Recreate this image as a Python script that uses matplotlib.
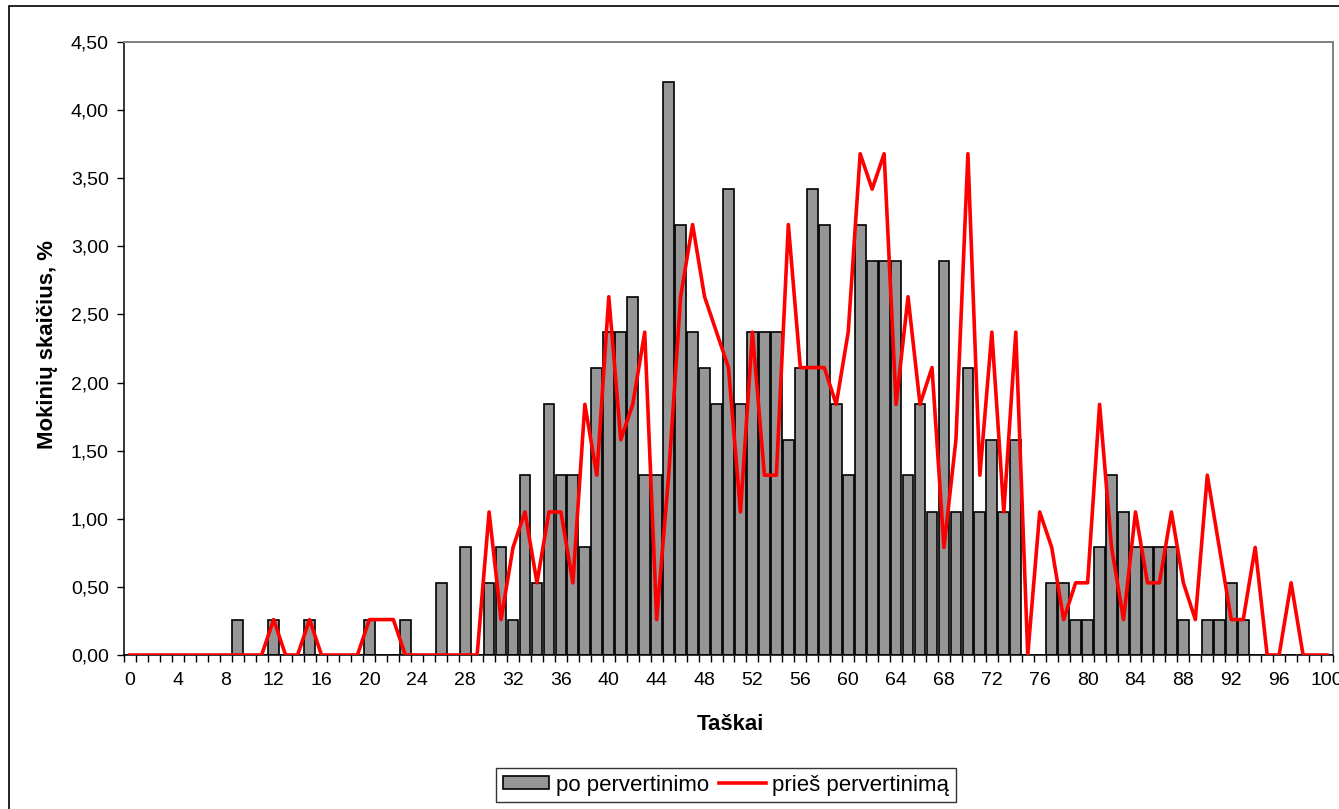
import numpy as np
import matplotlib
matplotlib.use("Agg")
import matplotlib.pyplot as plt
from matplotlib.patches import Patch, Rectangle
from matplotlib.lines import Line2D
from matplotlib.ticker import FixedLocator, FuncFormatter

plt.rcParams['font.family'] = ['Liberation Sans', 'DejaVu Sans']

scores = list(range(0, 101))

po_pervertinimo = [
    0, 0, 0, 0, 0, 0, 0, 0, 0, 0.26,        # 0-9
    0, 0, 0.26, 0, 0, 0.26, 0, 0, 0, 0,     # 10-19
    0.26, 0, 0, 0.26, 0, 0, 0.53, 0, 0.79, 0,   # 20-29
    0.53, 0.79, 0.26, 1.32, 0.53, 1.84, 1.32, 1.32, 0.79, 2.11,  # 30-39
    2.37, 2.37, 2.63, 1.32, 1.32, 4.21, 3.16, 2.37, 2.11, 1.84,  # 40-49
    3.42, 1.84, 2.37, 2.37, 2.37, 1.58, 2.11, 3.42, 3.16, 1.84,  # 50-59
    1.32, 3.16, 2.89, 2.89, 2.89, 1.32, 1.84, 1.05, 2.89, 1.05,  # 60-69
    2.11, 1.05, 1.58, 1.05, 1.58, 0, 0, 0.53, 0.53, 0.26,        # 70-79
    0.26, 0.79, 1.32, 1.05, 0.79, 0.79, 0.79, 0.79, 0.26, 0,     # 80-89
    0.26, 0.26, 0.53, 0.26, 0, 0, 0, 0, 0, 0,                    # 90-99
    0,                                                            # 100
]

pries_pervertinima = [
    0, 0, 0, 0, 0, 0, 0, 0, 0, 0,           # 0-9
    0, 0, 0.26, 0, 0, 0.26, 0, 0, 0, 0,     # 10-19
    0.26, 0.26, 0.26, 0, 0, 0, 0, 0, 0, 0,  # 20-29
    1.05, 0.26, 0.79, 1.05, 0.53, 1.05, 1.05, 0.53, 1.84, 1.32,  # 30-39
    2.63, 1.58, 1.84, 2.37, 0.26, 1.32, 2.63, 3.16, 2.63, 2.37,  # 40-49
    2.11, 1.05, 2.37, 1.32, 1.32, 3.16, 2.11, 2.11, 2.11, 1.84,  # 50-59
    2.37, 3.68, 3.42, 3.68, 1.84, 2.63, 1.84, 2.11, 0.79, 1.58,  # 60-69
    3.68, 1.32, 2.37, 1.05, 2.37, 0, 1.05, 0.79, 0.26, 0.53,     # 70-79
    0.53, 1.84, 0.79, 0.26, 1.05, 0.53, 0.53, 1.05, 0.53, 0.26,  # 80-89
    1.32, 0.79, 0.26, 0.26, 0.79, 0, 0, 0.53, 0, 0,              # 90-99
    0,                                                            # 100
]

x_tick_labels = [str(v) for v in range(0, 101, 4)]
y_ticks = [0.0, 0.5, 1.0, 1.5, 2.0, 2.5, 3.0, 3.5, 4.0, 4.5]

W, H = 1339, 809
fig = plt.figure(figsize=(W / 100, H / 100), dpi=100)
fig.patch.set_facecolor('white')

# outer chart border (left and top visible; right/bottom are cropped off)
fig.add_artist(Rectangle((8.5 / W, -0.2), 1.3, 1 - 6.0 / H + 0.2,
                         transform=fig.transFigure, fill=False,
                         edgecolor='black', linewidth=1.2, clip_on=False))

left, right = 124 / W, 1333 / W
bottom, top = 1 - 655 / H, 1 - 42 / H
ax = fig.add_axes([left, bottom, right - left, top - bottom])

ax.bar(scores, po_pervertinimo, width=0.9, color='#969696',
       edgecolor='black', linewidth=1.2, zorder=2)
ax.plot(scores, pries_pervertinima, color='#FF0000', linewidth=2.6, zorder=3)

ax.set_xlim(-0.5, 100.5)
ax.set_ylim(0, 4.5)

# spines
for s in ['left', 'bottom']:
    ax.spines[s].set_color('black')
    ax.spines[s].set_linewidth(1.1)
for s in ['top', 'right']:
    ax.spines[s].set_color('#808080')
    ax.spines[s].set_linewidth(1.4)

# x ticks: marks between categories, labels every 4
ax.xaxis.set_major_locator(FixedLocator(np.arange(-0.5, 101, 1)))
ax.xaxis.set_major_formatter(FuncFormatter(lambda v, p: ''))
ax.xaxis.set_minor_locator(FixedLocator(list(range(0, 101, 4))))
ax.set_xticklabels(x_tick_labels, minor=True)
ax.tick_params(axis='x', which='major', direction='out', length=5, width=1, color='black')
ax.tick_params(axis='x', which='minor', length=0, pad=12, labelsize=14)

ax.set_yticks(y_ticks)
ax.set_yticklabels([f"{v:.2f}".replace('.', ',') for v in y_ticks])
ax.tick_params(axis='y', direction='out', length=5, width=1, color='black',
               labelsize=14, pad=6)

fig.text(730 / W, 1 - 724 / H, 'Taškai', ha='center', va='center',
         fontsize=16, fontweight='bold')
fig.text(48 / W, 1 - 345 / H, 'Mokinių skaičius, %', ha='center', va='center',
         rotation=90, fontsize=16, fontweight='bold')

handles = [Patch(facecolor='#969696', edgecolor='black', linewidth=1.2),
           Line2D([0], [0], color='#FF0000', linewidth=2.6)]
leg = fig.legend(handles, ['po pervertinimo', 'prieš pervertinimą'],
                 loc='center', bbox_to_anchor=(726 / W, 1 - 785 / H),
                 ncol=2, frameon=True, fancybox=False, shadow=False,
                 fontsize=16, handlelength=2.1, handleheight=0.5,
                 handletextpad=0.3, columnspacing=0.45, borderpad=0.3,
                 borderaxespad=0)
leg.get_frame().set_edgecolor('black')
leg.get_frame().set_linewidth(1.0)

fig.savefig('out.png', dpi=100, facecolor='white')
